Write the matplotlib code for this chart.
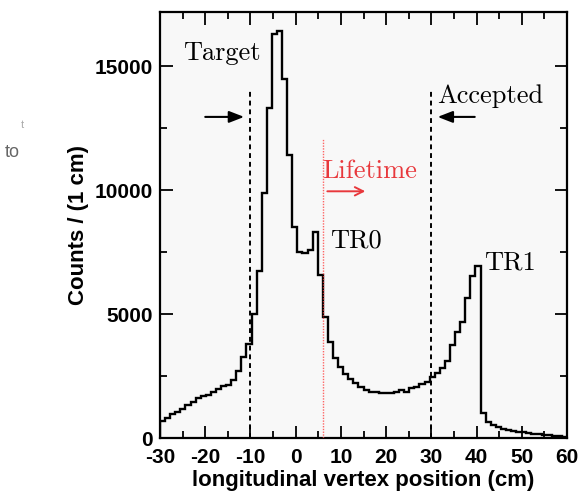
import matplotlib
matplotlib.use("Agg")
import matplotlib.pyplot as plt
import numpy as np
from matplotlib.ticker import MultipleLocator

plt.rcParams["axes.unicode_minus"] = False

# ── data: vertex histogram, 80 bins over [-30, 60] cm ────────────────────────
X_MIN, X_MAX = -30.0, 60.0

counts_upstream = [680, 820, 960, 1060, 1180, 1320, 1460, 1600, 1700, 1720,
                   1850, 1980, 2080, 2150, 2350, 2700, 3250, 3800]
counts_target = [5000, 6750, 9900, 13300, 16300, 16400, 14470, 11400,
                 8500, 7500, 7450, 7600, 8300, 6560]
counts_decay = [4890, 3880, 3210, 2850, 2600, 2400, 2200, 2040, 1930, 1870,
                1870, 1800, 1800, 1800, 1870, 1930, 1870, 2000, 2070, 2180,
                2270, 2470]
counts_tr1 = [2610, 2810, 3100, 3750, 4260, 4690, 5660, 6540, 6950]
counts_tail = [990, 660, 525, 460, 380, 330, 290, 255, 230, 190, 170, 150,
               130, 110, 90, 70, 50]

TARGET_CUT = -10.0
ACCEPTED_CUT = 30.0
LIFETIME_CUT = 6.0
CUT_HEIGHT = 14000
LIFETIME_HEIGHT = 12100

SERIF = "cmr10"
SANS = "Liberation Sans"


def main():
    counts = np.array(counts_upstream + counts_target + counts_decay
                      + counts_tr1 + counts_tail, dtype=float)
    edges = np.linspace(X_MIN, X_MAX, len(counts) + 1)

    fig = plt.figure(figsize=(5.81, 5.01), dpi=100)
    ax = fig.add_axes([0.2754, 0.1257, 0.7005, 0.8503])
    ax.set_facecolor("#f8f8f8")

    # histogram
    ax.stairs(counts, edges, color="black", lw=1.7, zorder=3)

    # cut lines
    for xc in (TARGET_CUT, ACCEPTED_CUT):
        ax.plot([xc, xc], [0, CUT_HEIGHT], color="black", lw=1.4,
                ls=(0, (2.5, 2.0)), zorder=2)
    ax.plot([LIFETIME_CUT, LIFETIME_CUT], [0, LIFETIME_HEIGHT],
            color="#ff4040", lw=1.0, ls=(0, (1, 1)), zorder=4, alpha=0.8)

    # annotations
    ax.text(-24.9, 15250, "Target", family=SERIF, fontsize=19,
            ha="left", va="baseline")
    ax.text(31.2, 13500, "Accepted", family=SERIF, fontsize=19,
            ha="left", va="baseline")
    ax.text(7.6, 7700, "TR0", family=SERIF, fontsize=19,
            ha="left", va="baseline")
    ax.text(41.6, 6800, "TR1", family=SERIF, fontsize=19,
            ha="left", va="baseline")
    ax.text(5.9, 10500, "Lifetime", family=SERIF, fontsize=19,
            color="#e8383c", ha="left", va="baseline")

    ax.annotate("", xy=(-11.4, 12950), xytext=(-20.0, 12950),
                arrowprops=dict(arrowstyle="-|>,head_length=0.9,head_width=0.35",
                                color="black", lw=1.5, shrinkA=0, shrinkB=0))
    ax.annotate("", xy=(31.4, 12950), xytext=(39.6, 12950),
                arrowprops=dict(arrowstyle="-|>,head_length=0.9,head_width=0.35",
                                color="black", lw=1.5, shrinkA=0, shrinkB=0))
    ax.annotate("", xy=(15.4, 9950), xytext=(7.0, 9950),
                arrowprops=dict(arrowstyle="->,head_length=0.6,head_width=0.3",
                                color="#e8383c", lw=1.4, shrinkA=0, shrinkB=0))

    # axes
    ax.set_xlim(X_MIN, X_MAX)
    ax.set_ylim(0, 17180)
    ax.xaxis.set_major_locator(MultipleLocator(10))
    ax.xaxis.set_minor_locator(MultipleLocator(5))
    ax.yaxis.set_major_locator(MultipleLocator(5000))
    ax.yaxis.set_minor_locator(MultipleLocator(2500))
    ax.tick_params(which="both", direction="in", top=True, right=True,
                   width=1.3, colors="black")
    ax.tick_params(which="major", length=9)
    ax.tick_params(which="minor", length=5)
    ax.tick_params(axis="x", pad=7)
    ax.tick_params(axis="y", pad=5)
    for lab in ax.get_xticklabels() + ax.get_yticklabels():
        lab.set_fontfamily(SANS)
        lab.set_fontweight("bold")
        lab.set_fontsize(15)
    for sp in ax.spines.values():
        sp.set_linewidth(1.6)

    ax.set_xlabel("longitudinal vertex position (cm)", family=SANS,
                  fontweight="bold", fontsize=16, labelpad=2)
    ax.set_ylabel("Counts / (1 cm)", family=SANS, fontweight="bold",
                  fontsize=16, labelpad=4)

    # clipped remnants of a neighbouring label at the left edge
    fig.text(0.008, 0.695, "to", family=SANS, fontsize=13, color="#666666",
             va="center")
    fig.text(0.036, 0.75, "t", family=SANS, fontsize=8, color="#aaaaaa",
             va="center")

    fig.savefig("out.png", dpi=100, facecolor="white")


if __name__ == "__main__":
    main()
